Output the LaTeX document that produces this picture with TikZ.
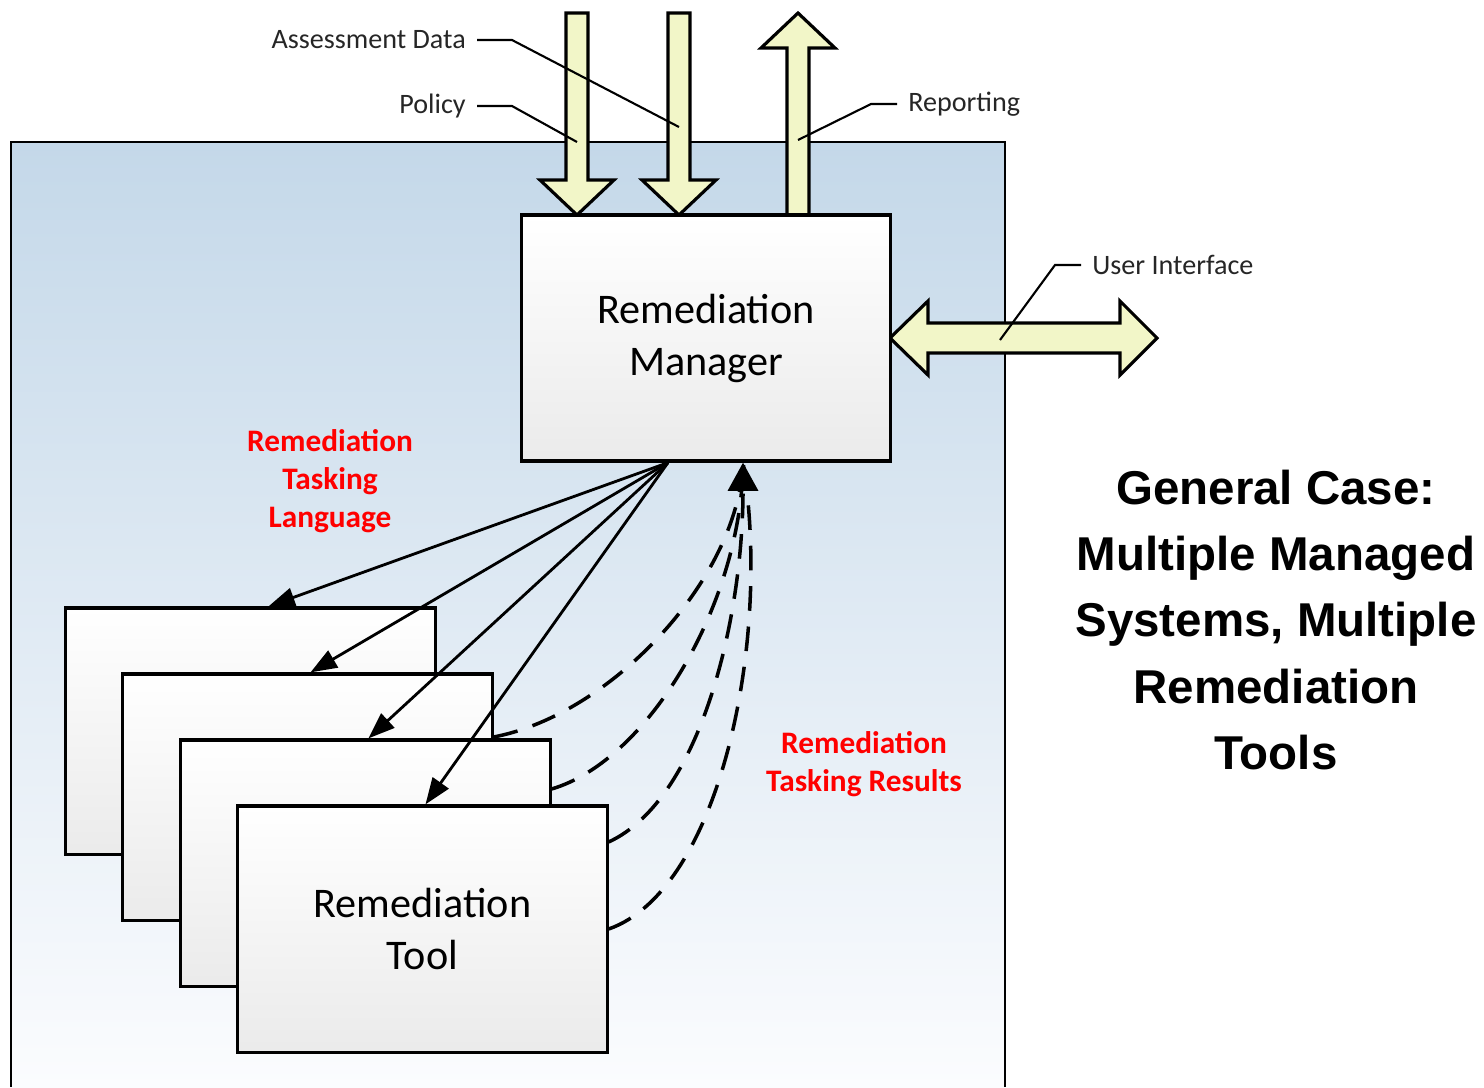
\documentclass[tikz,border=0pt]{standalone}
\usepackage{fontspec}
\setmainfont{Carlito}
\newfontfamily\titlefont{Liberation Sans}
\usetikzlibrary{arrows.meta}

\definecolor{panelTop}{RGB}{196,216,233}
\definecolor{panelBottom}{RGB}{251,252,254}
\definecolor{arrowFill}{RGB}{242,246,200}

\tikzset{
  box/.style={draw,line width=0.9pt,top color=white,bottom color=black!8,
    minimum width=3.69cm,minimum height=2.46cm,inner sep=0pt,align=center,
    font=\fontsize{12}{14.8}\selectfont},
  blockarrow/.style={draw,fill=arrowFill,line width=0.9pt,line join=miter},
  tasking/.style={-{Triangle[length=7.5pt,width=5.5pt]},line width=0.8pt},
  results/.style={line width=1pt,dash pattern=on 7pt off 4.5pt},
  resultstip/.style={results,-{Triangle[length=8pt,width=8.5pt]}},
  leader/.style={line width=0.6pt},
  tag/.style={inner sep=3pt,text=black!85,font=\fontsize{8}{9.6}\selectfont},
  redtag/.style={align=center,text=red,font=\bfseries\fontsize{8.9}{10.8}\selectfont},
  pics/arrowdown/.style={code={
    \draw[blockarrow] (0,0) -- (-37,-35) -- (-11,-35) -- (-11,-202)
      -- (11,-202) -- (11,-35) -- (37,-35) -- cycle;}}
}

\begin{document}
\begin{tikzpicture}[x=0.01cm,y=-0.01cm]
\useasboundingbox (0,0) rectangle (1484,1087);

% system panel
\shade[top color=panelTop,bottom color=panelBottom] (11,142) rectangle (1005,1087);
\draw[line width=0.8pt] (11,1087) -- (11,142) -- (1005,142) -- (1005,1087);

% inputs and outputs
\pic at (577,215) {arrowdown};
\pic at (679,215) {arrowdown};
\pic[rotate=180] at (798,13) {arrowdown};
\draw[blockarrow] (890,338) -- (928,301) -- (928,323) -- (1120,323) -- (1120,301)
  -- (1157,338) -- (1120,375) -- (1120,353) -- (928,353) -- (928,375) -- cycle;

\node[box,minimum width=3.68cm] (mgr) at (706,338) {Remediation\\Manager};

% tools
\node[box] (tool1) at (250.5,731) {};
\node[box] (tool2) at (307.5,797) {};
\node[box] (tool3) at (365.5,863) {};
\node[box] (tool4) at (422.5,929) {Remediation\\Tool};

% callouts
\node[tag,anchor=east] (ad) at (477,40) {Assessment Data};
\node[tag,anchor=east] (pol) at (477,106) {Policy};
\node[tag,anchor=west] (rep) at (897,104) {Reporting};
\node[tag,anchor=west] (ui) at (1081,265) {User Interface};
\draw[leader] (ad.east) -- ++(35,0) -- (679,127);
\draw[leader] (pol.east) -- ++(35,0) -- (577,142);
\draw[leader] (rep.west) -- ++(-26,0) -- (798,140);
\draw[leader] (ui.west) -- ++(-26,0) -- (1000,340);

% tasking
\coordinate (fan) at ([xshift=-0.38cm]mgr.south);
\coordinate (ret) at ([xshift=0.37cm]mgr.south);
\draw[tasking] (fan) -- ([xshift=0.18cm]tool1.north);
\draw[tasking] (fan) -- ([xshift=0.03cm]tool2.north);
\draw[tasking] (fan) -- ([xshift=0.03cm]tool3.north);
\draw[tasking] (fan) -- ([xshift=0.03cm]tool4.north);

\draw[results] ([yshift=0.6cm]tool2.east) .. controls (610,715) and (738,580) .. (ret);
\draw[results] ([yshift=0.74cm]tool3.east) .. controls (650,760) and (742,600) .. (ret);
\draw[results] (tool4.east) .. controls (720,890) and (772,640) .. (ret);
\draw[resultstip] ([yshift=0.87cm]tool4.east) .. controls (700,800) and (743,620) .. (ret);

\node[redtag] (lang) at (330,481) {Remediation\\Tasking\\Language};
\node[redtag] (res) at (864,764) {Remediation\\Tasking Results};

\node[align=center,font=\titlefont\bfseries\fontsize{13.5}{18.9}\selectfont] (title)
  at (1276,620) {General Case:\\Multiple Managed\\Systems, Multiple\\Remediation\\Tools};
\end{tikzpicture}
\end{document}
